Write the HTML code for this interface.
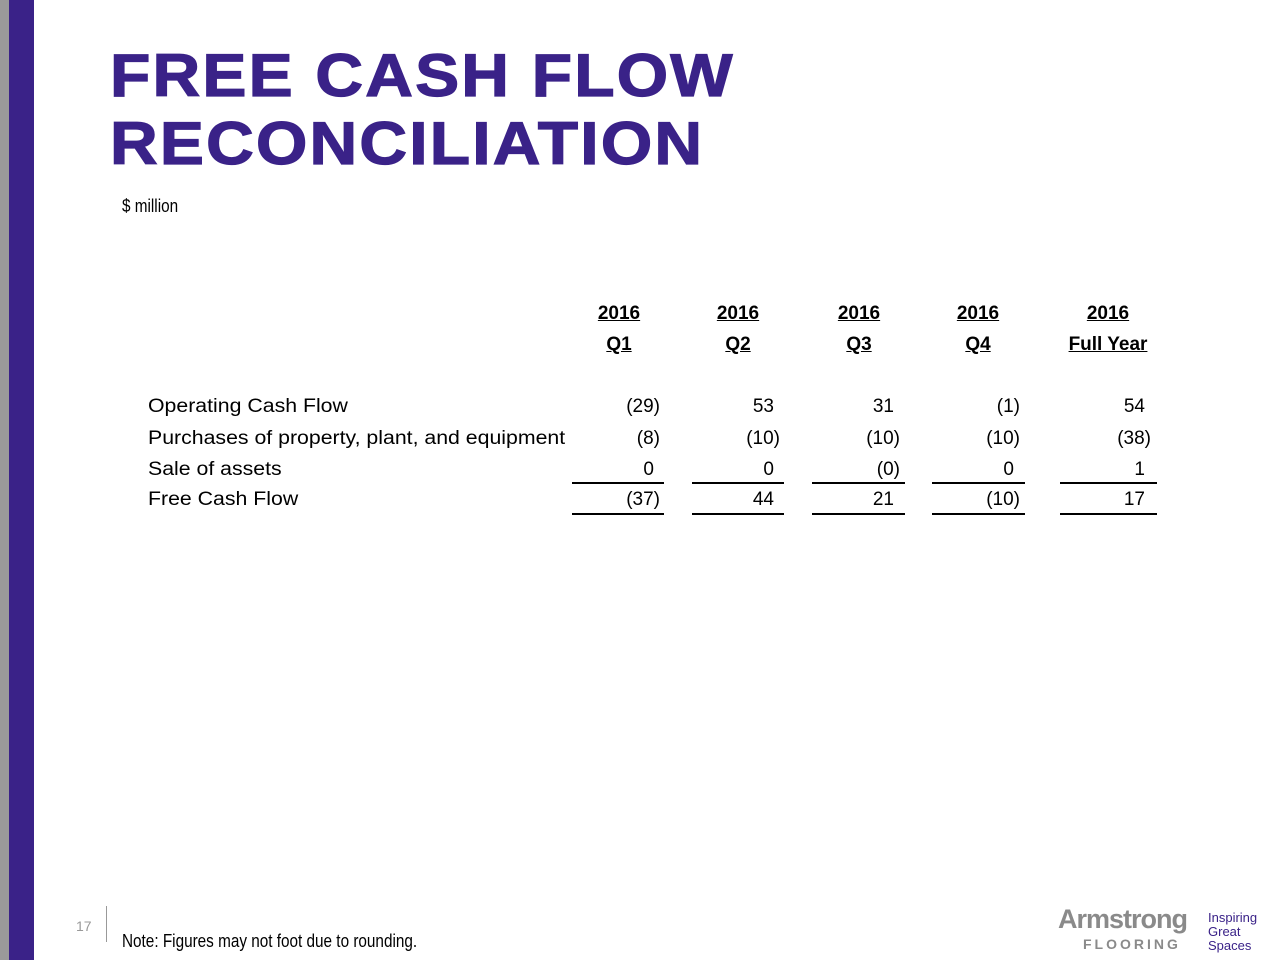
<!DOCTYPE html>
<html><head><meta charset="utf-8"><style>
body{margin:0;width:1280px;height:960px;position:relative;background:#fff;font-family:"Liberation Sans",sans-serif;overflow:hidden}
.a{position:absolute;white-space:nowrap}
.t{font-weight:bold;color:#3a2288;font-size:60px;left:110px;line-height:68px;letter-spacing:2px;transform:scaleX(1.1);transform-origin:left;-webkit-text-stroke:1.2px #3a2288}
.h{font-weight:bold;font-size:19px;text-decoration:underline;transform:translateX(-50%)}
.v{font-size:19px;transform:translateX(-100%)}
.l{font-size:19px;left:148px;transform:scaleX(1.12);transform-origin:left}
.u{height:2px;background:#000}
</style></head><body>
<div class="a" style="left:0;top:0;width:9px;height:960px;background:#9a9a9a"></div>
<div class="a" style="left:9px;top:0;width:25px;height:960px;background:#3a2288"></div>
<div class="a t" style="top:42px">FREE CASH FLOW<br>RECONCILIATION</div>
<div class="a" style="left:122px;top:196px;font-size:18px;transform:scaleX(0.85);transform-origin:left">$ million</div>
<div id="tbl"></div>
<div class="a" style="left:76px;top:918px;font-size:14px;color:#999">17</div>
<div class="a" style="left:106px;top:906px;width:1px;height:36px;background:#999"></div>
<div class="a" style="left:122px;top:931px;font-size:18px;transform:scaleX(0.85);transform-origin:left">Note: Figures may not foot due to rounding.</div>
<div class="a" style="left:1058px;top:904px;font-size:27px;font-weight:bold;color:#8a8a8a;letter-spacing:-1px">Armstrong</div>
<div class="a" style="left:1083px;top:936px;font-size:14px;font-weight:bold;color:#8a8a8a;letter-spacing:3px">FLOORING</div>
<div class="a" style="left:1208px;top:911px;font-size:13px;line-height:14px;color:#3a2288">Inspiring<br>Great<br>Spaces</div>
<script>
const headers1=["2016","2016","2016","2016","2016"];
const headers2=["Q1","Q2","Q3","Q4","Full Year"];
const rowLabels=["Operating Cash Flow","Purchases of property, plant, and equipment","Sale of assets","Free Cash Flow"];
const values=[["(29)","53","31","(1)","54"],["(8)","(10)","(10)","(10)","(38)"],["0","0","(0)","0","1"],["(37)","44","21","(10)","17"]];
const colCenter=[619,738,859,978,1108];
const colRight=[660,780,900,1020,1151];
const colLine=[[572,664],[692,784],[812,905],[932,1025],[1060,1157]];
const rowTop=[396,428,459,489];
const T=document.getElementById('tbl');
function mk(cls,txt,x,y){const d=document.createElement('div');d.className='a '+cls;d.textContent=txt;d.style.left=x+'px';d.style.top=y+'px';T.appendChild(d);return d;}
headers1.forEach((h,i)=>{const d=mk('h',h,colCenter[i],303);

});
headers2.forEach((h,i)=>{const d=mk('h',h,colCenter[i],334);

});
rowLabels.forEach((r,j)=>{const d=mk('l',r,148,rowTop[j]);


values[j].forEach((v,i)=>{const x=colRight[i]-(v.endsWith(')')?0:6);const c=mk('v',v,x,rowTop[j]);

});});
[482,513].forEach(y=>colLine.forEach(([a,b])=>{const u=mk('u','',a,y);u.style.width=(b-a)+'px';

}));
</script>
</body></html>
